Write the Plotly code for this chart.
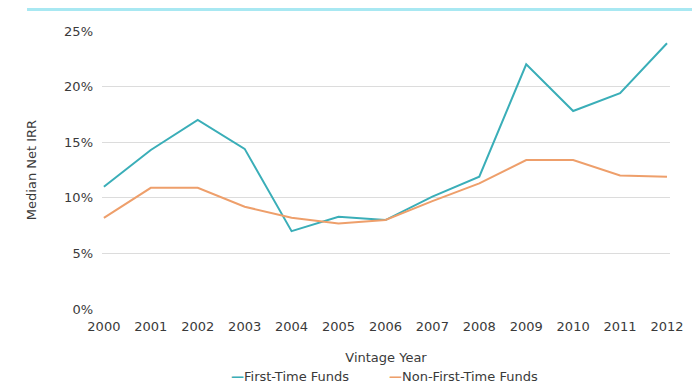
import plotly.graph_objects as go

years = [2000, 2001, 2002, 2003, 2004, 2005, 2006, 2007, 2008, 2009, 2010, 2011, 2012]
first_time = [11.0, 14.3, 17.0, 14.4, 7.0, 8.3, 8.0, 10.1, 11.9, 22.0, 17.8, 19.4, 23.9]
non_first_time = [8.2, 10.9, 10.9, 9.2, 8.2, 7.7, 8.0, 9.7, 11.3, 13.4, 13.4, 12.0, 11.9]
y_ticks = [0, 5, 10, 15, 20, 25]
series_names = ["First-Time Funds", "Non-First-Time Funds"]
series_colors = ["#3AAEB8", "#EE9F6B"]

font_family = "'DejaVu Sans', sans-serif"
text_color = "#3A3A3A"

fig = go.Figure()
for name, vals, col in zip(series_names, [first_time, non_first_time], series_colors):
    fig.add_trace(go.Scatter(x=years, y=vals, mode="lines", name=name,
                             line=dict(color=col, width=2)))

# legend drawn as text entries: coloured dash + name
legend_x = [0.2236, 0.5018]
annotations = []
for name, col, lx in zip(series_names, series_colors, legend_x):
    annotations.append(dict(
        xref="paper", yref="paper", x=lx, y=-0.2446, xanchor="left", yanchor="middle",
        showarrow=False,
        text=f"<span style='color:{col}'><b>\u2014</b></span>{name}",
        font=dict(size=13, color=text_color, family=font_family)))

fig.update_layout(
    width=692, height=380,
    margin=dict(l=94, r=30, t=23, b=79),
    paper_bgcolor="white", plot_bgcolor="white",
    font=dict(family=font_family, size=13, color=text_color),
    showlegend=False,
    xaxis=dict(range=[1999.96, 2012.064], tickmode="array", tickvals=years,
               ticktext=[str(y) for y in years], showgrid=False, zeroline=False,
               showline=False, ticks="", ticklabelstandoff=8,
               tickfont=dict(size=13, color=text_color),
               title=dict(text="Vintage Year", standoff=19, font=dict(size=13, color=text_color))),
    yaxis=dict(range=[0, 25], tickmode="array", tickvals=y_ticks,
               ticktext=[f"{v}%" for v in y_ticks], showgrid=True, gridcolor="#DCDCDC",
               gridwidth=1, zeroline=False, showline=False, ticks="",
               ticklabelstandoff=8, tickfont=dict(size=13, color=text_color),
               title=dict(text="Median Net IRR", standoff=24, font=dict(size=13, color=text_color))),
    annotations=annotations,
    shapes=[dict(type="line", xref="paper", yref="paper",
                 x0=-0.132, x1=1.044, y0=1.0773, y1=1.0773,
                 line=dict(color="#A8E8F2", width=3))],
)

fig.write_html("out.html")
